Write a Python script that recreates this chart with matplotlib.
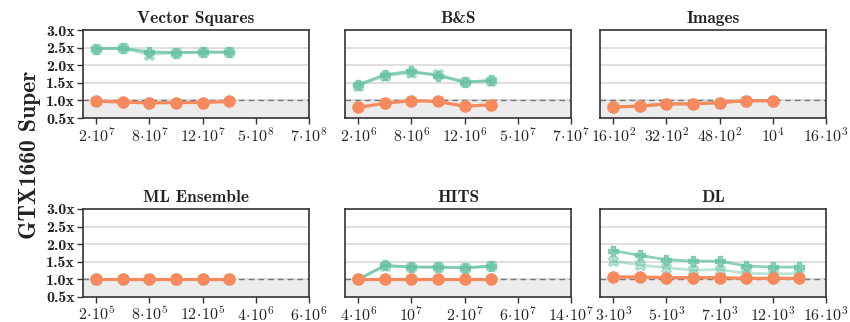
import numpy as np
import matplotlib
matplotlib.use("Agg")
import matplotlib.pyplot as plt

plt.rcParams['mathtext.fontset'] = 'cm'

# ---------------- data ----------------
TITLES = ["Vector Squares", "B&S", "Images", "ML Ensemble", "HITS", "DL"]

# (mantissa, exponent) for the ticks at positions 0, 2, 4, 6, 8
XTICKS = [
    [("2", "7"), ("8", "7"), ("12", "7"), ("5", "8"), ("7", "8")],
    [("2", "6"), ("8", "6"), ("12", "6"), ("5", "7"), ("7", "7")],
    [("16", "2"), ("32", "2"), ("48", "2"), ("", "4"), ("16", "3")],
    [("2", "5"), ("8", "5"), ("12", "5"), ("4", "6"), ("6", "6")],
    [("4", "6"), ("", "7"), ("2", "7"), ("6", "7"), ("14", "7")],
    [("3", "3"), ("5", "3"), ("7", "3"), ("12", "3"), ("16", "3")],
]

# speedups, one list per panel
GREEN_P = [
    [2.47, 2.48, 2.38, 2.36, 2.37, 2.37],
    [1.45, 1.73, 1.83, 1.70, 1.52, 1.57],
    [0.81, 0.84, 0.90, 0.90, 0.94, 0.99, 0.99],
    [1.00, 1.00, 1.00, 1.00, 1.00, 1.00],
    [1.00, 1.40, 1.35, 1.35, 1.33, 1.38],
    [1.82, 1.68, 1.56, 1.52, 1.52, 1.38, 1.35, 1.35],
]
GREEN_X = [
    [2.47, 2.48, 2.30, 2.36, 2.37, 2.37],
    [1.42, 1.70, 1.78, 1.75, 1.52, 1.55],
    [0.81, 0.84, 0.90, 0.90, 0.94, 0.99, 0.99],
    [1.00, 1.00, 1.00, 1.00, 1.00, 1.00],
    [1.00, 1.38, 1.35, 1.35, 1.33, 1.37],
    [1.52, 1.41, 1.33, 1.26, 1.28, 1.17, 1.16, 1.16],
]
ORANGE = [
    [0.98, 0.95, 0.93, 0.94, 0.94, 0.97],
    [0.80, 0.92, 0.99, 0.97, 0.83, 0.88],
    [0.81, 0.84, 0.90, 0.90, 0.94, 0.99, 0.99],
    [1.00, 1.00, 1.00, 1.00, 1.00, 1.00],
    [1.00, 1.00, 1.00, 1.00, 1.00, 1.00],
    [1.07, 1.07, 1.05, 1.05, 1.05, 1.03, 1.03, 1.03],
]
YTICKS = [0.5, 1.0, 1.5, 2.0, 2.5, 3.0]


def tick_label(m, e):
    if m:
        return r"$\mathbf{%s}\!\cdot\!\mathbf{10}^{\mathbf{%s}}$" % (m, e)
    return r"$\mathbf{10}^{\mathbf{%s}}$" % e


# ------------- figure -------------
fig = plt.figure(figsize=(8.5, 3.22), dpi=100)

W, H = 850.0, 322.0
lefts = [83, 345, 600]
tops = [30, 209]
aw, ah = 226, 88

for k in range(6):
    r, c = divmod(k, 3)
    ax = fig.add_axes([lefts[c] / W, 1 - (tops[r] + ah) / H, aw / W, ah / H])

    ax.axhspan(0.5, 1.0, color='#ececec', zorder=0)
    for y in YTICKS[1:-1]:
        ax.axhline(y, color='#d9d9d9', lw=1.2, zorder=1)
    ax.axhline(1.0, color='#777777', lw=1.0, ls=(0, (4, 3)), zorder=2)

    xg = np.arange(len(GREEN_P[k]))
    ax.plot(xg, GREEN_X[k], color='#66c2a5', alpha=0.45, lw=2.0,
            marker='X', ms=7.5, zorder=3)
    ax.plot(xg, GREEN_P[k], color='#66c2a5', alpha=0.75, lw=2.0,
            marker='P', ms=7.5, zorder=4)
    ax.plot(np.arange(len(ORANGE[k])), ORANGE[k], color='#f68a5c', lw=2.3,
            marker='o', ms=8, zorder=5)

    ax.set_xlim(-0.5, 8)
    ax.set_ylim(0.5, 3.0)
    ax.set_xticks([0, 2, 4, 6, 8])
    ax.set_xticklabels([tick_label(m, e) for m, e in XTICKS[k]], fontsize=11.5,
                       color='#222222')
    ax.tick_params(axis='x', length=4, width=1, colors='#333333', pad=2)
    for lab in ax.get_xticklabels():
        lab.set_color('#222222')

    if c == 0:
        ax.set_yticks(YTICKS)
        ax.set_yticklabels([f"{v:.1f}x" for v in YTICKS], fontsize=11.5,
                           family='cmb10', color='#222222')
        ax.tick_params(axis='y', length=4, width=1, colors='#333333', pad=2)
        for lab in ax.get_yticklabels():
            lab.set_color('#222222')
    else:
        ax.set_yticks([])

    for s in ax.spines.values():
        s.set_color('#333333')
        s.set_linewidth(1.2)

    ax.set_title(TITLES[k], family='cmb10', fontsize=12.5, color='#222222', pad=5)

fig.text(0.035, 0.52, "GTX1660 Super", rotation=90, family='cmb10',
         fontsize=17, color='#222222', ha='center', va='center')

fig.savefig("out.png", dpi=100)
